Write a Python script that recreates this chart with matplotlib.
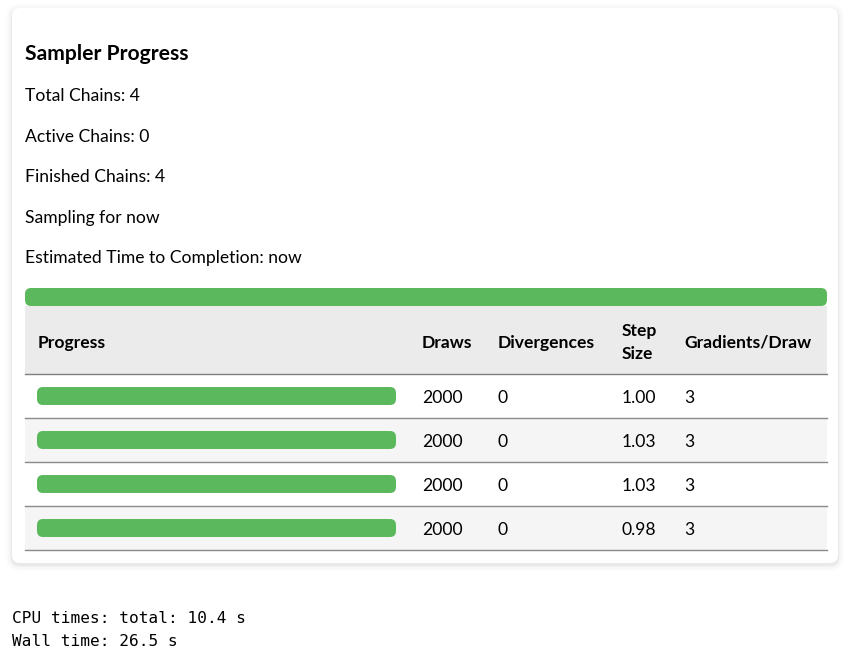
import matplotlib
matplotlib.use("Agg")
import matplotlib.pyplot as plt
from matplotlib.patches import FancyBboxPatch, Rectangle

# ---- data ----
total_chains = 4
active_chains = 0
finished_chains = 4
sampling_for = "now"
eta = "now"
overall_progress = 1.0
chain_progress = [1.0, 1.0, 1.0, 1.0]
draws = [2000, 2000, 2000, 2000]
divergences = [0, 0, 0, 0]
step_size = [1.00, 1.03, 1.03, 0.98]
grads_per_draw = [3, 3, 3, 3]
columns = ["Progress", "Draws", "Divergences", "Step\nSize", "Gradients/Draw"]
cpu_total = 10.4
wall_time = 26.5

W, H = 849, 662
fig = plt.figure(figsize=(W / 100, H / 100), dpi=100)
ax = fig.add_axes([0, 0, 1, 1])
ax.set_xlim(0, W)
ax.set_ylim(H, 0)
ax.axis("off")

FONT = "Lato"
GREEN = "#5cb85c"
BODY = 12.6

# card shadow + card
for d, a in [(6, 0.012), (4, 0.018), (2, 0.025), (1, 0.03)]:
    ax.add_patch(FancyBboxPatch((12 - d, 8 - d + 2), 826 + 2 * d, 555 + 2 * d,
                                boxstyle="round,pad=0,rounding_size=%d" % (8 + d),
                                fc="black", ec="none", alpha=a, zorder=1))
ax.add_patch(FancyBboxPatch((12, 8), 826, 555, boxstyle="round,pad=0,rounding_size=8",
                            fc="white", ec="none", zorder=2))

# header texts
ax.text(25, 59.5, "Sampler Progress", fontsize=15.2, fontweight="bold", family=FONT,
        va="baseline", ha="left", zorder=5)
lines = [f"Total Chains: {total_chains}", f"Active Chains: {active_chains}",
         f"Finished Chains: {finished_chains}", f"Sampling for {sampling_for}",
         f"Estimated Time to Completion: {eta}"]
for i, s in enumerate(lines):
    ax.text(25, 101 + i * 40.5, s, fontsize=BODY, family=FONT, va="baseline", ha="left", zorder=5)

# overall progress bar
x0, x1 = 25, 827
ax.add_patch(FancyBboxPatch((x0, 288), (x1 - x0) * overall_progress, 18,
                            boxstyle="round,pad=0,rounding_size=6", fc=GREEN, ec="none", zorder=4))

# table header
ax.add_patch(Rectangle((x0, 306), x1 - x0, 67.5, fc="#ebebeb", ec="none", zorder=3))
col_x = [38, 422, 498, 622, 684]
for cx, c in zip(col_x, columns):
    parts = c.split("\n")
    if len(parts) == 1:
        ax.text(cx, 348, c, fontsize=BODY, fontweight="bold", family=FONT, va="baseline",
                ha="left", zorder=5)
    else:
        for j, p in enumerate(parts):
            ax.text(cx, 336 + j * 23, p, fontsize=BODY, fontweight="bold", family=FONT,
                    va="baseline", ha="left", zorder=5)
ax.plot([x0, x1], [373.5, 373.5], color="#7f7f7f", lw=1, zorder=5)

# rows
row_h = 44
for i in range(len(draws)):
    top = 373.5 + i * row_h
    if i % 2 == 1:
        ax.add_patch(Rectangle((x0, top), x1 - x0, row_h, fc="#f5f5f5", ec="none", zorder=3))
    cy = top + row_h / 2
    ax.add_patch(FancyBboxPatch((37, cy - 8.5), (396 - 37) * chain_progress[i], 18,
                                boxstyle="round,pad=0,rounding_size=6", fc=GREEN, ec="none", zorder=4))
    vals = [str(draws[i]), str(divergences[i]), f"{step_size[i]:.2f}", str(grads_per_draw[i])]
    for cx, v in zip(col_x[1:], vals):
        ax.text(cx, top + 29.5, v, fontsize=BODY, family=FONT, va="baseline", ha="left", zorder=5)
    ax.plot([x0, x1], [top + row_h, top + row_h], color="#8a8a8a", lw=1, zorder=5)

# output text
ax.text(12, 623, f"CPU times: total: {cpu_total} s", fontsize=11.6, family="DejaVu Sans Mono",
        va="baseline", ha="left", zorder=5)
ax.text(12, 646, f"Wall time: {wall_time} s", fontsize=11.6, family="DejaVu Sans Mono",
        va="baseline", ha="left", zorder=5)

fig.savefig("out.png", dpi=100, facecolor="white")
